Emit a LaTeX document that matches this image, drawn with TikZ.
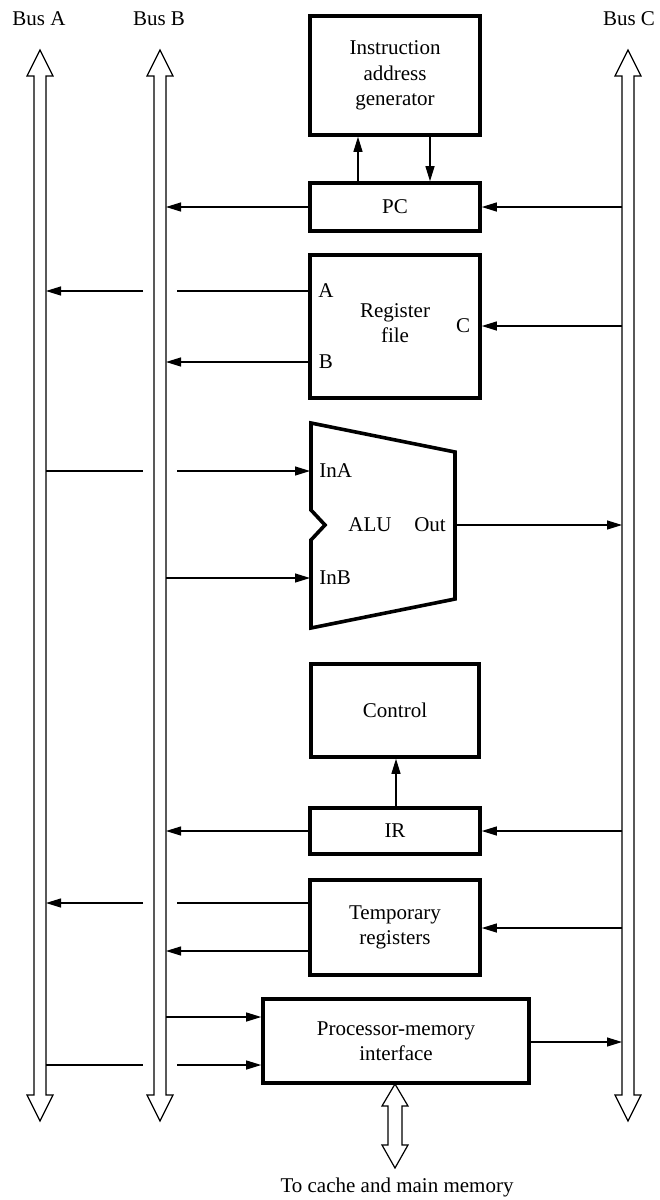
\documentclass[tikz,border=0pt]{standalone}
\usepackage{fontspec}
\setmainfont{Liberation Serif}
\usetikzlibrary{arrows.meta}
\newcommand\lblfont{\fontsize{10.5}{12.75}\selectfont}
\begin{document}
\begin{tikzpicture}[x=0.5pt,y=-0.5pt,
  box/.style={draw,line width=1.8pt,inner sep=0pt,align=center,font=\lblfont},
  lbl/.style={inner sep=0pt,align=center,font=\lblfont},
  arr/.style={line width=0.6pt,-{Triangle[length=7.5pt,width=4.5pt]}},
  ln/.style={line width=0.6pt},
  bus/.style={line width=0.6pt,fill=white,line join=miter}]
\useasboundingbox (0,0) rectangle (659,1200);
% x positions
\coordinate (AR) at (46,0);
\coordinate (BL) at (154,0);
\coordinate (BR) at (166,0);
\coordinate (CL) at (622,0);
\coordinate (gapL) at (143,0);
\coordinate (gapR) at (177,0);
% buses
\foreach \cx in {40,160,628}{
  \draw[bus] (\cx,50) -- ({\cx+13},76) -- ({\cx+6},76) -- ({\cx+6},1095) -- ({\cx+13},1095)
    -- (\cx,1121) -- ({\cx-13},1095) -- ({\cx-6},1095) -- ({\cx-6},76) -- ({\cx-13},76) -- cycle;
}
\node[lbl] (busA) at (39,19) {Bus A};
\node[lbl] (busB) at (159,19) {Bus B};
\node[lbl] (busC) at (629,19) {Bus C};
% IAG and PC
\node[box,minimum width=85pt,minimum height=59.5pt] (iag) at (395,75.5) {Instruction\\address\\generator};
\node[box,minimum width=85pt,minimum height=24pt] (pc) at (395,207) {PC};
\coordinate (x358) at (358,0);
\coordinate (x430) at (430,0);
\draw[arr] (pc.north -| x358) -- (iag.south -| x358);
\draw[arr] (iag.south -| x430) -- (pc.north -| x430);
\draw[arr] (pc.west) -- (pc.west -| BR);
\draw[arr] (pc.east -| CL) -- (pc.east);
% Register file
\node[box,minimum width=85pt,minimum height=71.5pt] (rf) at (395,326.5) {};
\node[lbl] (rftxt) at (395,323) {Register\\file};
\node[lbl] (la) at (326,291) {A};
\node[lbl] (lb) at (326,362) {B};
\node[lbl] (lc) at (463,326) {C};
\draw[ln] (la -| rf.west) -- (la -| gapR);
\draw[arr] (la -| gapL) -- (la -| AR);
\draw[arr] (lb -| rf.west) -- (lb -| BR);
\draw[arr] (lc -| CL) -- (lc -| rf.east);
% ALU
\draw[line width=1.8pt,line join=miter] (311,423) -- (455,452) -- (455,599) -- (311,628) -- (311,540) -- (325,525) -- (311,510) -- cycle;
\coordinate (aluL) at (310,0);
\coordinate (aluR) at (456,0);
\node[lbl,anchor=west] (ina) at (319,471) {InA};
\node[lbl,anchor=west] (inb) at (319,578) {InB};
\node[lbl] (alu) at (370,525) {ALU};
\node[lbl] (out) at (430,525) {Out};
\draw[ln] (ina -| AR) -- (ina -| gapL);
\draw[arr] (ina -| gapR) -- (ina -| aluL);
\draw[arr] (inb -| BR) -- (inb -| aluL);
\draw[arr] (out -| aluR) -- (out -| CL);
% Control and IR
\node[box,minimum width=84pt,minimum height=46.5pt] (ctrl) at (395,710.5) {Control};
\node[box,minimum width=85pt,minimum height=23pt] (ir) at (395,831) {IR};
\coordinate (x396) at (396,0);
\draw[arr] (ir.north -| x396) -- (ctrl.south -| x396);
\draw[arr] (ir.west) -- (ir.west -| BR);
\draw[arr] (ir.east -| CL) -- (ir.east);
% Temporary registers
\node[box,minimum width=85pt,minimum height=47.5pt] (tmp) at (395,927.5) {Temporary\\registers};
\coordinate (t1) at (0,903);
\coordinate (t2) at (0,951);
\coordinate (t3) at (0,928);
\draw[ln] (t1 -| tmp.west) -- (t1 -| gapR);
\draw[arr] (t1 -| gapL) -- (t1 -| AR);
\draw[arr] (t2 -| tmp.west) -- (t2 -| BR);
\draw[arr] (t3 -| CL) -- (t3 -| tmp.east);
% Processor-memory interface
\node[box,minimum width=133pt,minimum height=42pt] (pmi) at (396,1041) {Processor-memory\\interface};
\coordinate (p1) at (0,1017);
\coordinate (p2) at (0,1065);
\coordinate (p3) at (0,1042);
\draw[arr] (p1 -| BR) -- (p1 -| pmi.west);
\draw[ln] (p2 -| AR) -- (p2 -| gapL);
\draw[arr] (p2 -| gapR) -- (p2 -| pmi.west);
\draw[arr] (p3 -| pmi.east) -- (p3 -| CL);
% memory double arrow
\draw[bus] (395,1084) -- (408,1106) -- (402,1106) -- (402,1145) -- (408,1145) -- (395,1168)
  -- (382,1145) -- (388,1145) -- (388,1106) -- (382,1106) -- cycle;
\node[lbl] (mem) at (397,1187) {To cache and main memory};
\end{tikzpicture}
\end{document}
